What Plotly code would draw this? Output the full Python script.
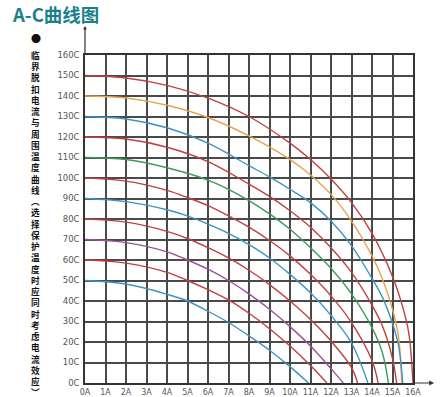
import plotly.graph_objects as go

# ---------------- data ----------------
x_tick_vals = list(range(0, 17))
x_tick_text = [f"{v}A" for v in x_tick_vals]
y_tick_vals = list(range(0, 161, 10))
y_tick_text = [f"{v}C" for v in y_tick_vals]

I_150 = [0, 2, 4, 6, 8, 10, 11, 12, 13, 14, 15, 15.5, 15.8, 16]
T_150 = [150, 148.8, 145.2, 139, 130, 117, 109, 99.5, 88, 73, 52, 37, 24, 0]

I_140 = [0, 2, 4, 6, 8, 10, 11, 12, 13, 14, 14.5, 15, 15.3, 15.45]
T_140 = [140, 139, 135.5, 129.5, 120.5, 109, 101.5, 92, 79, 62, 51, 36, 22, 0]

I_130 = [0, 2, 4, 6, 8, 9, 10, 11, 12, 13, 14, 14.5, 15, 15.3, 15.5]
T_130 = [130, 128.8, 124.5, 117, 106, 100.5, 94.5, 88, 79, 67, 51, 42, 29, 18, 0]

I_120 = [0, 2, 4, 6, 8, 9, 10, 11, 12, 13, 14, 14.5, 15, 15.2]
T_120 = [120, 119, 115, 108, 97, 91, 84, 76, 66, 54, 38, 28, 12, 0]

I_110 = [0, 2, 4, 6, 7, 8, 9, 10, 11, 12, 13, 14, 14.5, 14.8]
T_110 = [110, 109, 105, 99, 94.5, 89, 82.5, 75, 66, 56, 43.5, 27, 15, 0]

I_100 = [0, 2, 4, 5, 6, 7, 8, 9, 10, 11, 12, 13, 14, 14.3]
T_100 = [100, 98.5, 94, 90.5, 86.5, 81.5, 76, 69.5, 62, 53, 42.5, 29.5, 11, 0]

I_90 = [0, 2, 4, 5, 6, 7, 8, 9, 10, 11, 12, 13, 13.8]
T_90 = [90, 88.5, 84.5, 81.5, 77.5, 73, 67.5, 61, 53, 44, 33, 19.5, 0]

I_80 = [0, 2, 4, 5, 6, 7, 8, 9, 10, 11, 12, 13, 13.3]
T_80 = [80, 78.5, 74, 70.5, 66, 61, 55, 48, 40, 31, 20.5, 7.5, 0]

I_70 = [0, 2, 4, 5, 6, 7, 8, 9, 10, 11, 12, 12.6]
T_70 = [70, 68.5, 64, 60, 55.5, 50, 43.5, 36, 27.5, 18, 7, 0]

I_60 = [0, 2, 4, 5, 6, 7, 8, 9, 10, 11, 11.8]
T_60 = [60, 58.5, 54, 50, 45.5, 40.5, 34, 26.5, 18, 8.5, 0]

I_50 = [0, 2, 4, 5, 6, 7, 8, 9, 10, 10.9]
T_50 = [50, 48.3, 43.3, 40, 35, 29.5, 23, 16, 8, 0]

title_text = "A-C曲线图"
side_text_1 = "临界脱扣电流与周围温度曲线"
side_text_2 = "选择保护温度时应同时考虑电流效应"

# ---------------- styling ----------------
RED = "#c0403f"
ORANGE = "#e9a24c"
BLUE = "#3c93c8"
GREEN = "#3d9a5c"
PURPLE = "#9a509c"

series = [
    (I_150, T_150, RED),
    (I_140, T_140, ORANGE),
    (I_130, T_130, BLUE),
    (I_120, T_120, RED),
    (I_110, T_110, GREEN),
    (I_100, T_100, RED),
    (I_90, T_90, BLUE),
    (I_80, T_80, RED),
    (I_70, T_70, PURPLE),
    (I_60, T_60, RED),
    (I_50, T_50, BLUE),
]

fig = go.Figure()
for xs, ys, col in series:
    fig.add_trace(go.Scatter(
        x=xs, y=ys, mode="lines",
        line=dict(color=col, width=1.4, shape="spline", smoothing=1.0),
        hoverinfo="skip", showlegend=False, cliponaxis=False,
    ))

# plot area geometry in page pixels (body margin is removed below)
W, H = 444, 397
L, R, T, B = 85, 413, 55, 383
PW, PH = R - L, B - T


def px(xp):
    return (xp - L) / PW


def py(yp):
    return (B - yp) / PH


GRID = "#4a4a4a"
AXIS = "#333333"

fig.update_layout(
    width=W, height=H, autosize=False,
    margin=dict(l=L, r=W - R, t=T, b=H - B, pad=0, autoexpand=False),
    paper_bgcolor="white", plot_bgcolor="white",
    xaxis=dict(
        range=[0, 16], tickmode="array", tickvals=x_tick_vals, ticktext=x_tick_text,
        showgrid=True, gridcolor=GRID, gridwidth=1.5, zeroline=False,
        showline=True, linecolor=AXIS, linewidth=1.5, mirror=True,
        ticks="", automargin=False, ticklabelstandoff=1,
        tickfont=dict(family="DejaVu Sans", size=8, color="#555555"),
        fixedrange=True,
    ),
    yaxis=dict(
        range=[0, 160], tickmode="array", tickvals=y_tick_vals, ticktext=y_tick_text,
        showgrid=True, gridcolor=GRID, gridwidth=1.5, zeroline=False,
        showline=True, linecolor=AXIS, linewidth=1.5, mirror=True,
        ticks="", automargin=False, ticklabelstandoff=2,
        tickfont=dict(family="DejaVu Sans", size=8.5, color="#555555"),
        fixedrange=True,
    ),
)

annotations = []
# title
annotations.append(dict(
    text=f"<b>{title_text}</b>", xref="paper", yref="paper",
    x=px(10), y=py(13.5), xanchor="left", yanchor="middle", showarrow=False,
    font=dict(family="Noto Sans CJK SC", size=18.5, color="#1b7f8c"),
))
# bullet
annotations.append(dict(
    text="●", xref="paper", yref="paper", x=px(36), y=py(39),
    xanchor="center", yanchor="middle", showarrow=False,
    font=dict(family="Noto Sans CJK SC", size=10, color="#111111"),
))
# vertical side text, one character per line
chars = list(side_text_1) + ["︵"] + list(side_text_2) + ["︶"]
side = "<br>".join(f"<b>{c}</b>" for c in chars)
annotations.append(dict(
    text=side, xref="paper", yref="paper", x=px(35), y=py(223.5),
    xanchor="center", yanchor="middle", showarrow=False, align="center",
    font=dict(family="Noto Sans CJK SC", size=8.65, color="#111111"),
))
# axis arrow extensions
annotations.append(dict(
    text="", xref="paper", yref="paper", x=px(434), y=0, ax=-(434 - R), ay=0,
    showarrow=True, arrowhead=2, arrowsize=0.8, arrowwidth=1.2, arrowcolor=AXIS,
))
annotations.append(dict(
    text="", xref="paper", yref="paper", x=0, y=py(26), ax=0, ay=(T - 26),
    showarrow=True, arrowhead=2, arrowsize=0.6, arrowwidth=1.2, arrowcolor=AXIS,
))
fig.update_layout(annotations=annotations)

fig.write_html(
    "out.html",
    config={"displayModeBar": False},
    post_script="document.body.style.margin='0';",
)
